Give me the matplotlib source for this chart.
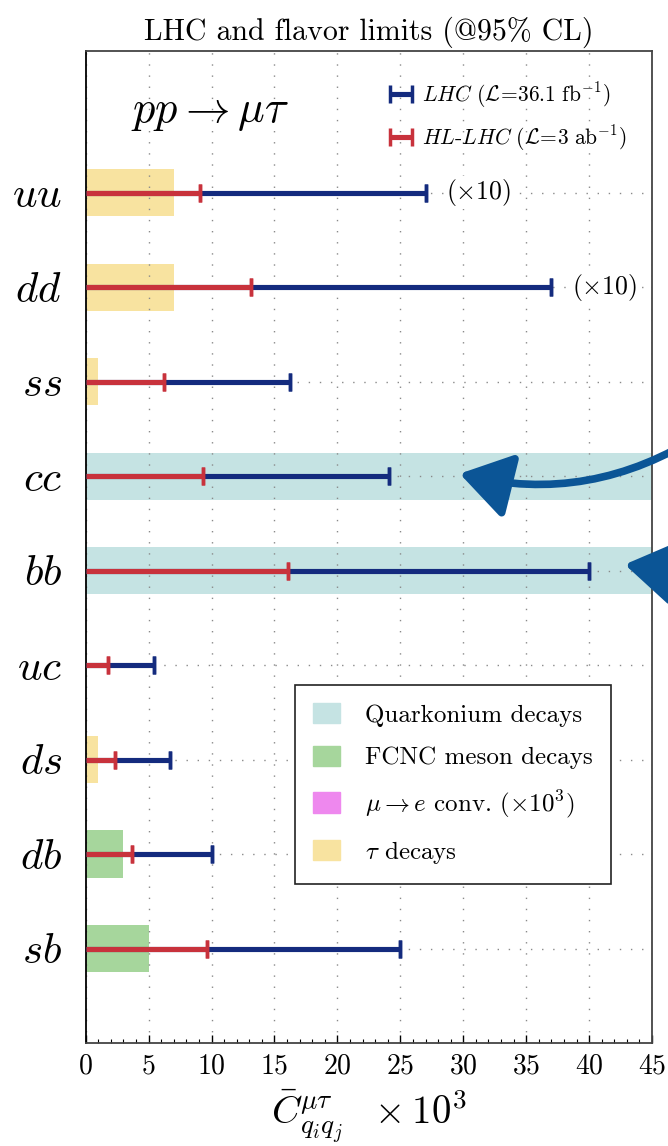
import numpy as np
import matplotlib
matplotlib.use('Agg')
import matplotlib.pyplot as plt
from matplotlib.patches import Patch, FancyArrowPatch
from matplotlib.ticker import MultipleLocator

plt.rcParams['font.family'] = ['cmr10', 'DejaVu Serif']
plt.rcParams['mathtext.fontset'] = 'cm'
plt.rcParams['axes.unicode_minus'] = False
plt.rcParams['axes.formatter.use_mathtext'] = True

# quark flavour pairs, top to bottom
pairs = ['uu', 'dd', 'ss', 'cc', 'bb', 'uc', 'ds', 'db', 'sb']

# pp -> mu tau limits (x 10^3)
lhc = [27.0, 37.0, 16.2, 24.1, 40.0, 5.4, 6.7, 10.0, 25.0]
hllhc = [9.1, 13.1, 6.2, 9.3, 16.1, 1.8, 2.3, 3.65, 9.6]
scale_note = ['(×10)', '(×10)', '', '', '', '', '', '', '']

# flavour limits (nan = none); quarkonium ones run off the plot
quarkonium = [np.nan, np.nan, np.nan, 50.0, 50.0, np.nan, np.nan, np.nan, np.nan]
fcnc = [np.nan, np.nan, np.nan, np.nan, np.nan, np.nan, np.nan, 3.0, 5.0]
mue = [np.nan] * 9
tau = [7.0, 7.0, 1.0, np.nan, np.nan, np.nan, 1.0, np.nan, np.nan]

c_blue = '#142b7e'
c_red = '#c8323c'
c_quark = '#c5e3e3'
c_fcnc = '#a6d69c'
c_mue = '#ee88ee'
c_tau = '#f8e3a0'
c_arrow = '#0b5596'

ypos = np.arange(len(pairs))[::-1]

fig = plt.figure(figsize=(6.68, 11.46), dpi=100)
ax = fig.add_axes([0.1283, 0.0899, 0.8478, 0.8656])

# flavour bands
for vals, col in [(quarkonium, c_quark), (fcnc, c_fcnc), (mue, c_mue), (tau, c_tau)]:
    vals = np.array(vals)
    ok = ~np.isnan(vals)
    if ok.any():
        ax.barh(ypos[ok], vals[ok], height=0.5, color=col, lw=0, zorder=1)

# collider limits
def limit_bars(vals, col, lab, z):
    vals = np.array(vals)
    eb = ax.errorbar(np.zeros(len(vals)), ypos, xerr=[np.zeros(len(vals)), vals],
                     fmt='none', ecolor=col, elinewidth=3.7, capsize=6.8,
                     capthick=2.5, label=lab, zorder=z)
    # no cap at zero
    for cl in eb.lines[1]:
        if np.allclose(cl.get_xdata(), 0):
            cl.set_xdata(vals)
    return eb

eb1 = limit_bars(lhc, c_blue, r'$\mathit{LHC}\ (\mathcal{L}\!=\!36.1\ \mathrm{fb}^{-1})$', 3)
eb2 = limit_bars(hllhc, c_red, r'$\mathit{HL}$-$\mathit{LHC}\ (\mathcal{L}\!=\!3\ \mathrm{ab}^{-1})$', 4)

for v, y, note in zip(lhc, ypos, scale_note):
    if note:
        ax.annotate(r'$(\times10)$', xy=(v, y), xytext=(15, 0), textcoords='offset points',
                    ha='left', va='center', fontsize=18.5,
                    bbox=dict(fc='white', ec='none', pad=1))

ax.set_xlim(0, 45)
ax.set_ylim(-1, 9.5)
ax.set_xticks(np.arange(0, 46, 5))
ax.xaxis.set_minor_locator(MultipleLocator(1))
ax.set_yticks(ypos)
ax.set_yticklabels(['$' + p + '$' for p in pairs])
ax.tick_params(axis='x', which='major', direction='in', length=6, width=1, labelsize=20, pad=7)
ax.tick_params(axis='x', which='minor', direction='in', length=3, width=0.8)
ax.tick_params(axis='y', length=0, labelsize=31, pad=17)
ax.grid(True, which='major', color='#8a8a8a', linestyle=(0, (1, 7)), lw=1.0)
for s in ax.spines.values():
    s.set_color('#444444')
    s.set_linewidth(1.3)
ax.spines['left'].set_color('black')

ax.set_title('LHC and flavor limits (@95% CL)', fontsize=21.5, pad=8)
ax.set_xlabel(r'$\bar{C}^{\mu\tau}_{q_iq_j}\ \ \times 10^3$', fontsize=28, labelpad=6)

ax.text(0.22, 0.938, r'$pp \rightarrow \mu\tau$', transform=ax.transAxes,
        fontsize=32, ha='center', va='center')

leg1 = ax.legend(handles=[eb1, eb2], loc='upper left', bbox_to_anchor=(390 / 668, 1 - 80 / 1146),
                 bbox_transform=fig.transFigure, frameon=False, fontsize=15.5,
                 handlelength=1.03, handletextpad=0.45, labelspacing=0.62,
                 borderpad=0, borderaxespad=0)
ax.add_artist(leg1)

patches = [Patch(color=c_quark, label='Quarkonium decays'),
           Patch(color=c_fcnc, label='FCNC meson decays'),
           Patch(color=c_mue, label=r'$\mu \rightarrow e$ conv. $(\times10^3)$'),
           Patch(color=c_tau, label=r'$\tau$ decays')]
leg2 = ax.legend(handles=patches, loc='upper left', bbox_to_anchor=(295 / 668, 1 - 685 / 1146),
                 bbox_transform=fig.transFigure, fontsize=18, fancybox=False,
                 framealpha=1, edgecolor='#222222', handlelength=1.08, handleheight=0.88,
                 handletextpad=1.0, labelspacing=0.75, borderpad=0.72, borderaxespad=0)
leg2.get_frame().set_linewidth(1.2)

# pointer arrows to the quarkonium rows
W, H = 668.0, 1146.0
a1 = FancyArrowPatch((705 / W, 1 - 432 / H), (457 / W, 1 - 473 / H),
                     transform=fig.transFigure, connectionstyle='arc3,rad=-0.22',
                     arrowstyle='-|>,head_length=0.62,head_width=0.4', mutation_scale=50,
                     lw=5.5, color=c_arrow, joinstyle='round', capstyle='round', zorder=10)
a2 = FancyArrowPatch((730 / W, 1 - 572 / H), (622 / W, 1 - 564 / H),
                     transform=fig.transFigure, connectionstyle='arc3,rad=-0.05',
                     arrowstyle='-|>,head_length=0.62,head_width=0.4', mutation_scale=50,
                     lw=5.5, color=c_arrow, joinstyle='round', capstyle='round', zorder=10)
fig.add_artist(a1)
fig.add_artist(a2)

fig.savefig('out.png', dpi=100)
